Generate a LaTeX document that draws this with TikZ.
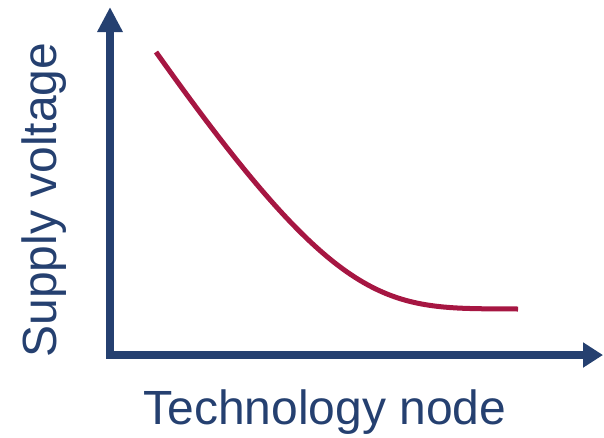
\documentclass[tikz,border=0pt]{standalone}
\usepackage{fontspec}
\setmainfont{Liberation Sans}
\usetikzlibrary{arrows.meta}
\definecolor{axisblue}{RGB}{37,64,112}
\definecolor{curvered}{RGB}{166,22,66}
\begin{document}
\begin{tikzpicture}[x=1pt,y=-1pt,
  axisline/.style={draw=axisblue,line width=8pt,line join=miter},
  curveline/.style={draw=curvered,line width=5pt},
  lbl/.style={text=axisblue,font=\fontsize{48}{52}\selectfont,inner sep=0pt}]
\useasboundingbox (0,0) rectangle (604,437);
\coordinate (ytip) at (110,7);
\coordinate (origin) at (110,355);
\coordinate (xtip) at (603,355);
\draw[axisline,{Triangle[length=25pt,width=24pt]}-{Triangle[length=20pt,width=24pt]}] (ytip) -- (origin) -- (xtip);
\coordinate (cstart) at (156,52);
\coordinate (cend) at (518,309);
\draw[curveline] (cstart) .. controls (345,318) and (388,308) .. (cend);
\node[lbl,anchor=base] (xl) at (325,424) {Technology node};
\node[lbl,rotate=90] (yl) at (44,200) {Supply voltage};
\end{tikzpicture}
\end{document}
